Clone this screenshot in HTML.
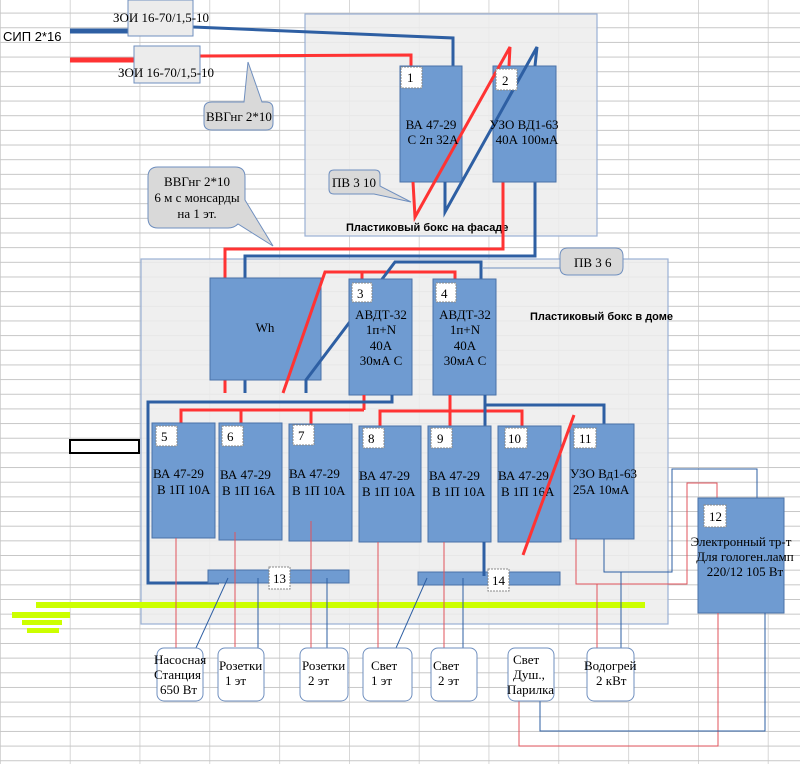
<!DOCTYPE html>
<html><head><meta charset="utf-8"><style>
html,body{margin:0;padding:0;background:#fff;}
svg{display:block;}
text{font-family:"Liberation Serif","DejaVu Serif",serif;font-size:13px;fill:#000;}
.s{font-family:"Liberation Sans","DejaVu Sans",sans-serif;}
.b{font-family:"Liberation Sans","DejaVu Sans",sans-serif;font-weight:bold;font-size:11px;}
</style></head><body>
<svg width="800" height="764" viewBox="0 0 800 764" xmlns="http://www.w3.org/2000/svg">
<defs>
<pattern id="g" x="0" y="12.6" width="69.8" height="14.66" patternUnits="userSpaceOnUse">
<line x1="0" y1="0.5" x2="69.8" y2="0.5" stroke="#c6c6c6" stroke-width="1"/>
<line x1="0.2" y1="0" x2="0.2" y2="14.66" stroke="#c6c6c6" stroke-width="1"/>
</pattern>
</defs>
<rect x="0" y="0" width="800" height="764" fill="#fff"/>
<rect x="0" y="0" width="800" height="764" fill="url(#g)"/>

<rect x="305" y="14" width="292" height="222" fill="#ececec" fill-opacity="0.85" stroke="#9ab0d4" stroke-width="1.2"/>
<rect x="141" y="259" width="527" height="365" fill="#ececec" fill-opacity="0.85" stroke="#9ab0d4" stroke-width="1.2"/>
<text x="346" y="231" class="b">Пластиковый бокс на фасаде</text>
<text x="530" y="320" class="b">Пластиковый бокс в доме</text>

<line x1="70" y1="31" x2="129" y2="31" stroke="#2e5fa3" stroke-width="5"/>
<line x1="70" y1="60" x2="134" y2="60" stroke="#ff3333" stroke-width="5"/>
<polyline points="193,27 453,38 453,66" fill="none" stroke="#2e5fa3" stroke-width="3"/>
<polyline points="200,56 411,55 411,66" fill="none" stroke="#ff3333" stroke-width="3"/>
<rect x="128" y="0" width="65" height="36" fill="#ececec" stroke="#6f8fbf"/>
<rect x="134" y="46" width="66" height="37" fill="#ececec" stroke="#6f8fbf"/>
<text x="113" y="22" font-size="13">ЗОИ 16-70/1,5-10</text>
<text x="118" y="77" font-size="13">ЗОИ 16-70/1,5-10</text>
<text x="3" y="41" class="s" font-size="12">СИП 2*16</text>

<path d="M212,102 L244,102 L248,62 L262,102 L266,102 Q273,102 273,109 L273,123 Q273,130 266,130 L212,130 Q204,130 204,123 L204,109 Q204,102 212,102Z" fill="#d9d9d9" stroke="#6f8fbf"/>
<text x="206" y="121">ВВГнг 2*10</text>
<path d="M158,167 L235,167 Q245,167 245,177 L245,200 L273,246 L238,224 Q234,228 228,228 L158,228 Q148,228 148,218 L148,177 Q148,167 158,167Z" fill="#d9d9d9" stroke="#6f8fbf"/>
<text x="197" y="186" text-anchor="middle">ВВГнг 2*10</text>
<text x="197" y="202" text-anchor="middle">6 м с монсарды</text>
<text x="197" y="218" text-anchor="middle">на 1 эт.</text>
<path d="M334,170 L375,170 Q380,170 380,175 L380,186 L411,202 L374,194 L334,194 Q329,194 329,189 L329,175 Q329,170 334,170Z" fill="#d9d9d9" stroke="#6f8fbf"/>
<text x="332" y="187">ПВ  3 10</text>

<polyline points="503,182 503,249 225,249 225,393" fill="none" stroke="#ff3333" stroke-width="3"/>
<polyline points="535,182 535,256 245,256 245,393" fill="none" stroke="#2e5fa3" stroke-width="3"/>

<rect x="400" y="66" width="62" height="116" fill="#6f9bd1" stroke="#4a72a8"/>
<rect x="493" y="66" width="63" height="116" fill="#6f9bd1" stroke="#4a72a8"/>
<polyline points="413,182 415,217 510,47 509,66" fill="none" stroke="#ff3333" stroke-width="3"/>
<polyline points="445,182 445,212 537,47 535,66" fill="none" stroke="#2e5fa3" stroke-width="3"/>
<rect x="401" y="67" width="21" height="21" fill="#fff" stroke="#888" stroke-dasharray="2,1"/>
<text x="407" y="82">1</text>
<rect x="496" y="69" width="21" height="21" fill="#fff" stroke="#888" stroke-dasharray="2,1"/>
<text x="502" y="85">2</text>
<text x="431" y="129" text-anchor="middle">ВА 47-29</text>
<text x="433" y="144" text-anchor="middle">С 2п 32А</text>
<text x="524" y="129" text-anchor="middle">УЗО ВД1-63</text>
<text x="527" y="144" text-anchor="middle">40А 100мА</text>

<rect x="210" y="278" width="111" height="102" fill="#6f9bd1" stroke="#4a72a8"/>
<text x="265" y="332" text-anchor="middle" font-size="12">Wh</text>
<polyline points="283,393 325,272 455,272 455,279" fill="none" stroke="#ff3333" stroke-width="3"/>
<line x1="362" y1="272" x2="362" y2="279" stroke="#ff3333" stroke-width="3"/>
<polyline points="306,393 306,380 395,262 481,262 481,279" fill="none" stroke="#2e5fa3" stroke-width="3"/>
<line x1="483" y1="268" x2="560" y2="268" stroke="#6f8fbf"/>
<path d="M568,248 L615,248 Q623,248 623,256 L623,267 Q623,275 615,275 L568,275 Q560,275 560,267 L560,256 Q560,248 568,248Z" fill="#d9d9d9" stroke="#6f8fbf"/>
<text x="574" y="267">ПВ  3 6</text>

<rect x="349" y="279" width="63" height="116" fill="#6f9bd1" stroke="#4a72a8"/>
<rect x="433" y="279" width="63" height="116" fill="#6f9bd1" stroke="#4a72a8"/>
<rect x="352" y="283" width="20" height="19" fill="#fff" stroke="#888" stroke-dasharray="2,1"/>
<text x="357" y="298">3</text>
<rect x="436" y="283" width="20" height="19" fill="#fff" stroke="#888" stroke-dasharray="2,1"/>
<text x="441" y="298">4</text>
<g text-anchor="middle">
<text x="381" y="319">АВДТ-32</text><text x="381" y="334">1п+N</text><text x="381" y="350">40А</text><text x="381" y="365">30мА С</text>
<text x="465" y="319">АВДТ-32</text><text x="465" y="334">1п+N</text><text x="465" y="350">40А</text><text x="465" y="365">30мА С</text>
</g>

<polyline points="364,395 364,410" fill="none" stroke="#ff3333" stroke-width="3"/>
<polyline points="181,423 181,410 364,410" fill="none" stroke="#ff3333" stroke-width="3"/>
<line x1="241" y1="410" x2="241" y2="423" stroke="#ff3333" stroke-width="3"/>
<line x1="311" y1="410" x2="311" y2="424" stroke="#ff3333" stroke-width="3"/>
<polyline points="392,395 392,402 148,402 148,583 219,583" fill="none" stroke="#2e5fa3" stroke-width="3"/>
<line x1="450" y1="395" x2="450" y2="426" stroke="#ff3333" stroke-width="3"/>
<polyline points="380,426 380,411 522,411 522,426" fill="none" stroke="#ff3333" stroke-width="3"/>
<line x1="485" y1="395" x2="485" y2="426" stroke="#2e5fa3" stroke-width="3"/>
<polyline points="485,405 604,405 604,424" fill="none" stroke="#2e5fa3" stroke-width="3"/>

<g fill="#6f9bd1" stroke="#4a72a8">
<rect x="152" y="423" width="63" height="115"/>
<rect x="219" y="423" width="63" height="117"/>
<rect x="289" y="424" width="63" height="117"/>
<rect x="359" y="426" width="62" height="116"/>
<rect x="428" y="426" width="63" height="116"/>
<rect x="498" y="426" width="63" height="116"/>
<rect x="570" y="424" width="64" height="115"/>
</g>
<g fill="#fff" stroke="#888" stroke-dasharray="2,1">
<rect x="156" y="426" width="21" height="20"/>
<rect x="222" y="426" width="21" height="20"/>
<rect x="293" y="425" width="21" height="20"/>
<rect x="363" y="428" width="21" height="20"/>
<rect x="431" y="428" width="21" height="20"/>
<rect x="505" y="428" width="22" height="20"/>
<rect x="574" y="428" width="22" height="20"/>
</g>
<text x="161" y="441">5</text><text x="227" y="441">6</text><text x="298" y="440">7</text><text x="368" y="443">8</text><text x="437" y="443">9</text><text x="508" y="443">10</text><text x="579" y="443">11</text>
<g font-size="13">
<text x="153" y="478">ВА 47-29</text><text x="157" y="494">В 1П 10А</text>
<text x="220" y="479">ВА 47-29</text><text x="222" y="495">В 1П 16А</text>
<text x="289" y="478">ВА 47-29</text><text x="292" y="495">В 1П 10А</text>
<text x="359" y="480">ВА 47-29</text><text x="362" y="496">В 1П 10А</text>
<text x="429" y="480">ВА 47-29</text><text x="432" y="496">В 1П 10А</text>
<text x="498" y="480">ВА 47-29</text><text x="501" y="496">В 1П 16А</text>
<text x="570" y="478">УЗО Вд1-63</text><text x="573" y="494">25А 10мА</text>
</g>
<polyline points="574,415 523,555" fill="none" stroke="#ff3333" stroke-width="3"/>

<rect x="208" y="570" width="141" height="13" fill="#6f9bd1" stroke="#4a72a8"/>
<rect x="418" y="572" width="142" height="13" fill="#6f9bd1" stroke="#4a72a8"/>
<line x1="484" y1="542" x2="484" y2="576" stroke="#2e5fa3" stroke-width="3"/>
<rect x="269" y="567" width="21" height="22" fill="#fff" stroke="#888" stroke-dasharray="2,1"/>
<text x="273" y="583">13</text>
<rect x="488" y="569" width="21" height="22" fill="#fff" stroke="#888" stroke-dasharray="2,1"/>
<text x="492" y="585">14</text>

<rect x="36" y="602" width="609" height="6" fill="#ccff00"/>
<rect x="12" y="612" width="58" height="6" fill="#ccff00"/>
<rect x="22" y="620" width="40" height="5" fill="#ccff00"/>
<rect x="27" y="628" width="32" height="5" fill="#ccff00"/>
<rect x="70" y="440" width="69" height="13" fill="#fff" stroke="#000" stroke-width="2"/>

<polyline points="576,539 576,584 687,584 687,483 717,483 717,498" fill="none" stroke="#e0535b" stroke-width="1"/>
<polyline points="604,539 604,572 672,572 672,469 757,469 757,498" fill="none" stroke="#2e5fa3" stroke-width="1"/>
<rect x="698" y="498" width="86" height="115" fill="#6f9bd1" stroke="#4a72a8"/>
<rect x="704" y="505" width="22" height="22" fill="#fff" stroke="#888" stroke-dasharray="2,1"/>
<text x="709" y="521">12</text>
<text x="741" y="546" text-anchor="middle" font-size="12.5">Электронный тр-т</text>
<text x="745" y="561" text-anchor="middle" font-size="12.5">Для гологен.ламп</text>
<text x="745" y="576" text-anchor="middle" font-size="12.5">220/12  105 Вт</text>
<polyline points="718,613 718,746 519,746 519,701" fill="none" stroke="#e0535b" stroke-width="1"/>
<polyline points="765,613 765,731 540,731 540,701" fill="none" stroke="#2e5fa3" stroke-width="1"/>

<g stroke="#e0535b" stroke-width="1">
<line x1="176" y1="538" x2="176" y2="648"/>
<line x1="235" y1="532" x2="235" y2="647"/>
<line x1="311" y1="521" x2="311" y2="648"/>
<line x1="378" y1="542" x2="378" y2="648"/>
<line x1="444" y1="542" x2="444" y2="648"/>
<line x1="597" y1="584" x2="597" y2="648"/>
</g>
<g stroke="#2e5fa3" stroke-width="1">
<line x1="228" y1="578" x2="195" y2="650"/>
<line x1="258" y1="578" x2="258" y2="648"/>
<line x1="327" y1="578" x2="327" y2="648"/>
<line x1="427" y1="578" x2="396" y2="648"/>
<line x1="463" y1="578" x2="463" y2="648"/>
<line x1="621" y1="572" x2="621" y2="648"/>
</g>

<g fill="#fff" stroke="#6f8fbf">
<rect x="157" y="648" width="46" height="53" rx="7"/>
<rect x="218" y="648" width="46" height="53" rx="7"/>
<rect x="300" y="648" width="48" height="53" rx="7"/>
<rect x="363" y="648" width="49" height="53" rx="7"/>
<rect x="431" y="648" width="46" height="53" rx="7"/>
<rect x="508" y="648" width="46" height="53" rx="7"/>
<rect x="587" y="648" width="47" height="53" rx="7"/>
</g>
<g font-size="12.5">
<text x="154" y="664">Насосная</text><text x="154" y="679">Станция</text><text x="160" y="694">650 Вт</text>
<text x="219" y="670">Розетки</text><text x="225" y="685">1 эт</text>
<text x="302" y="670">Розетки</text><text x="308" y="685">2 эт</text>
<text x="371" y="670">Свет</text><text x="371" y="685">1 эт</text>
<text x="433" y="670">Свет</text><text x="438" y="685">2 эт</text>
<text x="513" y="664">Свет</text><text x="513" y="679">Душ.,</text><text x="507" y="694">Парилка</text>
<text x="584" y="670">Водогрей</text><text x="596" y="685">2 кВт</text>
</g>
</svg>
</body></html>
